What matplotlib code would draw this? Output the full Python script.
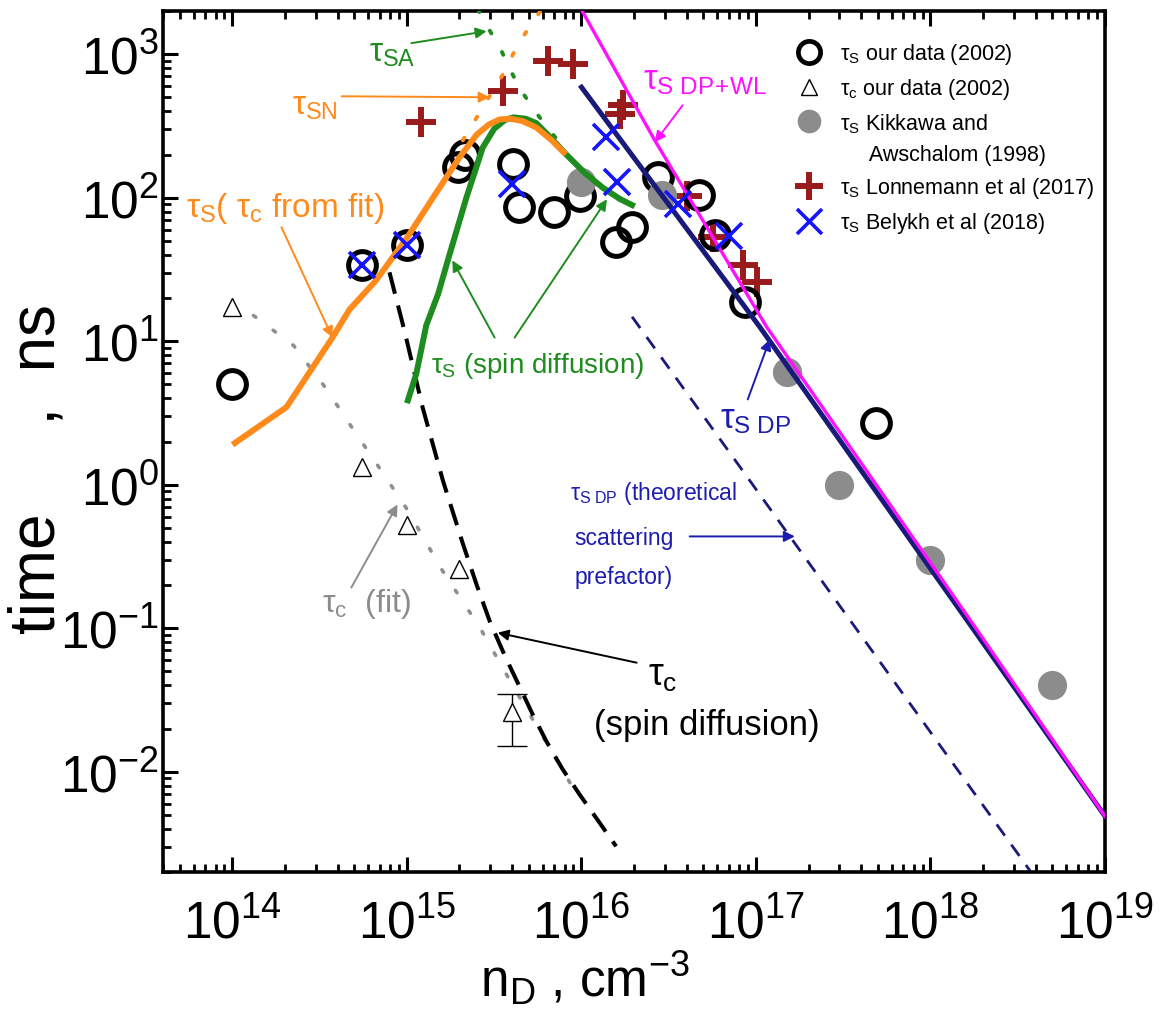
import matplotlib
matplotlib.use("Agg")
import matplotlib.pyplot as plt
from matplotlib.lines import Line2D
from matplotlib.ticker import (FixedLocator, LogLocator, LogFormatterSciNotation,
                               NullFormatter)

plt.rcParams['font.family'] = ['Liberation Sans', 'DejaVu Sans']
plt.rcParams['mathtext.fontset'] = 'custom'
plt.rcParams['mathtext.rm'] = 'Liberation Sans'
plt.rcParams['mathtext.it'] = 'Liberation Sans'
plt.rcParams['mathtext.bf'] = 'Liberation Sans:bold'
plt.rcParams['mathtext.sf'] = 'Liberation Sans'

# ---------------- axis ticks ----------------
x_ticks = [1e14, 1e15, 1e16, 1e17, 1e18, 1e19]
y_ticks = [1e-2, 1e-1, 1e0, 1e1, 1e2, 1e3]

# ---------------- measured data ----------------
# tau_s, our data (2002)
ours_n = [1.0e14, 5.5e14, 1.0e15, 1.96e15, 2.14e15, 4.05e15, 4.4e15, 7.0e15,
          9.8e15, 1.58e16, 1.96e16, 2.75e16, 4.7e16, 5.8e16, 8.7e16, 4.9e17]
ours_ts = [5.0, 34, 47, 163, 197, 172, 86, 79, 102, 49, 62, 140, 104, 55, 18.7, 2.7]

# tau_c, our data (2002)
ours_nc = [1.0e14, 5.5e14, 1.0e15, 2.0e15, 4.0e15]
ours_tc = [17.2, 1.32, 0.52, 0.26, 0.026]
tc_bar_n = [4.0e15]
tc_bar_lo = [0.0151]
tc_bar_hi = [0.0346]

# tau_s, Kikkawa and Awschalom (1998)
kik_n = [1.0e16, 2.9e16, 1.5e17, 3.0e17, 1.0e18, 5.0e18]
kik_ts = [128, 104, 6.1, 1.0, 0.30, 0.040]

# tau_s, Lonnemann et al (2017)
lon_n = [1.2e15, 3.55e15, 6.4e15, 8.9e15, 1.66e16, 1.72e16, 4.0e16, 5.7e16, 8.4e16, 1.02e17]
lon_ts = [336, 558, 903, 856, 380, 440, 102, 53, 34, 26]

# tau_s, Belykh et al (2018)
bel_n = [5.5e14, 1.0e15, 4.0e15, 1.39e16, 1.6e16, 3.57e16, 7.0e16]
bel_ts = [34, 47, 125, 264, 128, 91, 54.5]

# ---------------- model curves ----------------
fit_n = [1.0e14, 2.04e14, 3.76e14, 4.68e14, 6.61e14, 1.0e15, 1.41e15, 2.0e15,
         2.51e15, 2.95e15, 3.39e15, 3.89e15, 4.57e15, 5.5e15, 6.76e15, 8.13e15]
fit_ts = [1.9, 3.47, 10.7, 16.6, 26.3, 52.5, 100, 191,
          275, 324, 351, 355, 343, 309, 251, 200]

sd_n = [1.0e15, 1.13e15, 1.29e15, 1.51e15, 1.75e15, 2.19e15, 2.72e15, 3.16e15,
        3.63e15, 4.07e15, 4.79e15, 5.51e15, 6.76e15, 8.18e15, 1.05e16, 1.33e16,
        1.66e16, 2.02e16]
sd_ts = [3.7, 5.9, 12.9, 21.4, 39.8, 100, 224, 302,
         347, 363, 355, 331, 257, 200, 148, 117, 98, 87]

sn_n = [2.09e15, 2.63e15, 3.09e15, 3.55e15, 4.17e15, 4.79e15, 5.89e15]
sn_ts = [251, 398, 550, 724, 1072, 1413, 2042]

sa_n = [7.08e15, 5.37e15, 4.52e15, 3.87e15, 3.47e15, 2.98e15, 2.57e15]
sa_ts = [263, 405, 558, 791, 1062, 1462, 2018]

tcfit_n = [1.32e14, 2.24e14, 3.39e14, 4.9e14, 6.92e14, 1.0e15, 1.58e15, 2.63e15,
           4.17e15, 6.76e15, 9.12e15]
tcfit_t = [15.1, 9.33, 4.79, 2.45, 1.32, 0.676, 0.257, 0.1, 0.0372, 0.0138, 0.0074]

tcsd_n = [7.94e14, 9.68e14, 1.23e15, 1.61e15, 2.09e15, 2.51e15, 2.98e15, 3.63e15,
          4.43e15, 5.25e15, 6.31e15, 7.76e15, 9.77e15, 1.26e16, 1.58e16]
tcsd_t = [30.2, 11.8, 3.45, 1.06, 0.389, 0.2, 0.112, 0.0646,
          0.0389, 0.0251, 0.0162, 0.0105, 0.00692, 0.00447, 0.00302]

dp_n = [1.0e16, 1.05e17, 1.82e18, 1.0e19]
dp_ts = [589, 12.6, 0.093, 0.0049]

dpwl_n = [1.0e16, 2.63e16, 1.15e17, 1.82e18, 1.0e19]
dpwl_ts = [2042, 251, 12.6, 0.100, 0.0049]

dpth_n = [1.95e16, 3.72e18]
dpth_ts = [14.8, 0.00204]

# ---------------- colours ----------------
ORANGE = '#ff8a1c'
GREEN = '#1e8c1e'
NAVY = '#1a1a7a'
MAGENTA = '#ff10ff'
DARKRED = '#991b1b'
BLUE = '#1414ff'
GRAY = '#8c8c8c'
DPBLUE = '#1c1cb0'

fig = plt.figure(figsize=(11.65, 10.2), dpi=100)
ax = fig.add_axes([163 / 1165, 1 - 873 / 1020, 942 / 1165, 861 / 1020])
ax.set_xscale('log')
ax.set_yscale('log')
ax.set_xlim(4e13, 1e19)
ax.set_ylim(2e-3, 2e3)

# curves
ax.plot(tcfit_n, tcfit_t, color='#8f8f8f', lw=2.6, dashes=(0.8, 6.0),
        dash_capstyle='round', zorder=2)
ax.plot(tcsd_n, tcsd_t, color='black', lw=2.9, dashes=(5.5, 3), zorder=2)
ax.plot(dpth_n, dpth_ts, color=NAVY, lw=2.0, dashes=(5, 4), zorder=2)
ax.plot(sn_n, sn_ts, color=ORANGE, lw=2.8, dashes=(0.8, 5.5), dash_capstyle='round', zorder=5)
ax.plot(sa_n, sa_ts, color=GREEN, lw=2.8, dashes=(0.8, 5.5), dash_capstyle='round', zorder=5)

# data points
ax.plot(lon_n, lon_ts, ls='none', marker='+', ms=21, mew=4.3, color=DARKRED, zorder=3)
ax.plot(ours_n, ours_ts, ls='none', marker='o', ms=20, mfc='none', mec='black',
        mew=3.6, zorder=4)
ax.plot(kik_n, kik_ts, ls='none', marker='o', ms=21, mfc=GRAY, mec='none', zorder=4.5)
ax.plot(ours_nc, ours_tc, ls='none', marker='^', ms=13, mfc='white', mec='black',
        mew=1.0, zorder=4)
ax.errorbar(tc_bar_n, [ours_tc[-1]],
            yerr=[[ours_tc[-1] - tc_bar_lo[0]], [tc_bar_hi[0] - ours_tc[-1]]],
            fmt='none', ecolor='black', elinewidth=1.0, capsize=11, capthick=1.0, zorder=3.5)

ax.plot(sd_n, sd_ts, color=GREEN, lw=4.3, solid_capstyle='butt',
        solid_joinstyle='round', zorder=5)
ax.plot(fit_n, fit_ts, color=ORANGE, lw=4.3, solid_capstyle='butt',
        solid_joinstyle='round', zorder=5.5)
ax.plot(dp_n, dp_ts, color=NAVY, lw=3.6, zorder=5)
ax.plot(dpwl_n, dpwl_ts, color=MAGENTA, lw=2.4, zorder=5.5)

ax.plot(bel_n, bel_ts, ls='none', marker='x', ms=19, mew=2.6, color=BLUE, zorder=6)

# ---------------- annotations ----------------
def arrow(tail, head, color, lw=1.4):
    ax.annotate('', xy=head, xytext=tail,
                arrowprops=dict(arrowstyle='-|>', color=color, lw=lw,
                                mutation_scale=16, shrinkA=0, shrinkB=0),
                zorder=7)

ax.text(8.2e14, 1025, r'$\tau_{\rm SA}$', color=GREEN, fontsize=24, ha='center', va='center')
arrow((1.06e15, 1194), (2.86e15, 1446), GREEN)

ax.text(2.95e14, 441, r'$\tau_{\rm SN}$', color=ORANGE, fontsize=24, ha='center', va='center')
arrow((4.22e14, 509), (2.98e15, 501), ORANGE)

ax.text(5.45e13, 86, r'$\tau_{\rm S}$( $\tau_{\rm c}$ from fit)', color=ORANGE,
        fontsize=24, ha='left', va='center')
arrow((1.91e14, 62.2), (3.74e14, 10.6), ORANGE)

ax.text(1.38e15, 6.8, r'$\tau_{\rm S}$ (spin diffusion)', color=GREEN,
        fontsize=20, ha='left', va='center')
arrow((3.18e15, 10.6), (1.82e15, 36.6), GREEN)
arrow((4.14e15, 10.6), (1.40e16, 97.5), GREEN)

ax.text(2.24e16, 670, r'$\tau_{\rm S\ DP\!+\!WL}$', color=MAGENTA, fontsize=25,
        ha='left', va='center')
arrow((3.8e16, 441), (2.63e16, 243), MAGENTA)

ax.text(6.2e16, 2.9, r'$\tau_{\rm S\ DP}$', color=DPBLUE, fontsize=25, ha='left', va='center')
arrow((8.97e16, 3.93), (1.2e17, 10.3), DPBLUE)

ax.text(8.55e15, 0.883, r'$\tau_{\rm S\ DP}$ (theoretical', color=DPBLUE, fontsize=16.5,
        ha='left', va='center')
ax.text(9.14e15, 0.428, 'scattering', color=DPBLUE, fontsize=16.5, ha='left', va='center')
ax.text(9.14e15, 0.229, 'prefactor)', color=DPBLUE, fontsize=16.5, ha='left', va='center')
arrow((4.17e16, 0.436), (1.67e17, 0.436), DPBLUE)

ax.text(2.93e16, 0.0474, r'$\tau_{\rm c}$', color='black', fontsize=27, ha='center', va='center')
ax.text(5.23e16, 0.0213, '(spin diffusion)', color='black', fontsize=25, ha='center', va='center')
arrow((2.07e16, 0.0575), (3.31e15, 0.093), 'black')

ax.text(3.28e14, 0.151, r'$\tau_{\rm c}$  (fit)', color=GRAY, fontsize=23, ha='left', va='center')
arrow((4.8e14, 0.192), (8.83e14, 0.728), GRAY)

# ---------------- legend ----------------
handles = [
    Line2D([], [], ls='none', marker='o', ms=16, mfc='none', mec='black', mew=3.4),
    Line2D([], [], ls='none', marker='^', ms=12, mfc='white', mec='black', mew=1.0),
    Line2D([], [], ls='none', marker='o', ms=17, mfc=GRAY, mec='none'),
    Line2D([], [], ls='none'),
    Line2D([], [], ls='none', marker='+', ms=20, mew=4.3, color=DARKRED),
    Line2D([], [], ls='none', marker='x', ms=18, mew=2.6, color=BLUE),
]
labels = [
    r'$\tau_{\rm S}$ our data (2002)',
    r'$\tau_{\rm c}$ our data (2002)',
    r'$\tau_{\rm S}$ Kikkawa and',
    r'     Awschalom (1998)',
    r'$\tau_{\rm S}$ Lonnemann et al (2017)',
    r'$\tau_{\rm S}$ Belykh et al (2018)',
]
ax.legend(handles, labels, loc='upper left', bbox_to_anchor=(0.662, 0.975),
          frameon=False, fontsize=15.5, handlelength=1.3, handletextpad=0.78,
          labelspacing=0.46, borderaxespad=0.0)

# ---------------- axes styling ----------------
ax.xaxis.set_major_locator(FixedLocator(x_ticks))
ax.yaxis.set_major_locator(FixedLocator(y_ticks))
ax.xaxis.set_minor_locator(LogLocator(base=10, subs=range(2, 10), numticks=100))
ax.yaxis.set_minor_locator(LogLocator(base=10, subs=range(2, 10), numticks=100))
ax.xaxis.set_major_formatter(LogFormatterSciNotation())
ax.yaxis.set_major_formatter(LogFormatterSciNotation())
ax.xaxis.set_minor_formatter(NullFormatter())
ax.yaxis.set_minor_formatter(NullFormatter())

ax.tick_params(which='both', direction='in', top=True, right=False)
ax.tick_params(which='major', length=11, width=2.2, labelsize=37)
ax.tick_params(axis='x', which='major', pad=19)
ax.tick_params(axis='y', which='major', pad=3)
ax.tick_params(which='minor', length=6, width=2.0)
for s in ax.spines.values():
    s.set_linewidth(2.6)

ax.set_ylabel('time     ,  ns', fontsize=46)
ax.yaxis.label.set(rotation_mode='default', va='center', ha='center')
ax.yaxis.set_label_coords((38 - 163) / 942, 1 - (469 - 12) / 861)

ax.set_xlabel(r'n$_{\rm D}$ , cm$^{-3}$', fontsize=37)
ax.xaxis.set_label_coords((585 - 163) / 942, (873 - 950) / 861)

fig.savefig('out.png', dpi=100)
